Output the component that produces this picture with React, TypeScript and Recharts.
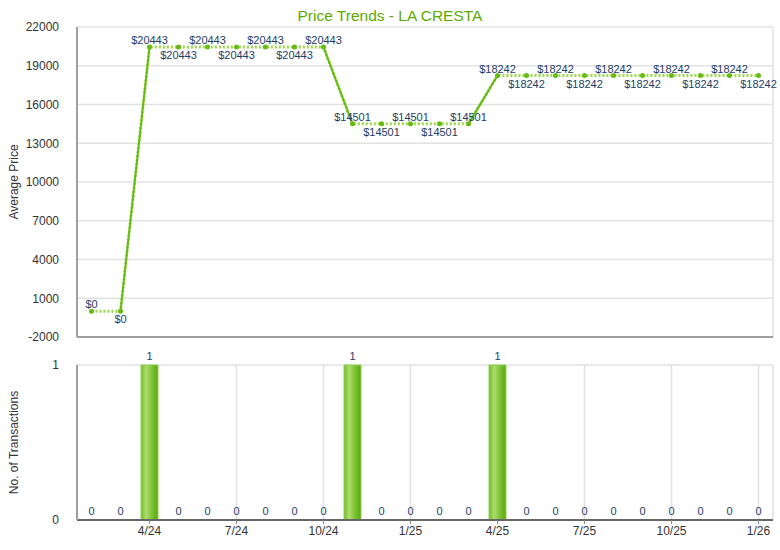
import React from 'react';
import { LineChart, Line, ComposedChart, Bar, XAxis, YAxis, CartesianGrid, LabelList, Label } from 'recharts';

const months = [
  '2/24', '3/24', '4/24', '5/24', '6/24', '7/24', '8/24', '9/24', '10/24', '11/24', '12/24', '1/25',
  '2/25', '3/25', '4/25', '5/25', '6/25', '7/25', '8/25', '9/25', '10/25', '11/25', '12/25', '1/26',
];
const avgPrice = [
  0, 0, 20443, 20443, 20443, 20443, 20443, 20443, 20443, 14501, 14501, 14501,
  14501, 14501, 18242, 18242, 18242, 18242, 18242, 18242, 18242, 18242, 18242, 18242,
];
const transactions = [0, 0, 1, 0, 0, 0, 0, 0, 0, 1, 0, 0, 0, 0, 1, 0, 0, 0, 0, 0, 0, 0, 0, 0];
const tickMonths = ['4/24', '7/24', '10/24', '1/25', '4/25', '7/25', '10/25', '1/26'];
const priceTicks = [-2000, 1000, 4000, 7000, 10000, 13000, 16000, 19000, 22000];

// solid segment = the step into a month with a sale
const data = months.map((m, i) => ({
  month: m,
  price: avgPrice[i],
  solid: transactions[i] === 1 || transactions[i + 1] === 1 ? avgPrice[i] : null,
  count: transactions[i],
}));

const FONT = '"Liberation Sans", Arial, sans-serif';
const LABEL_COLOR = '#1d3d66';
const GRID = '#e2e2e2';

const PriceLabel = (props: any) => {
  const { x, y, index, value } = props;
  let run = 0;
  let i = index;
  while (i > 0 && avgPrice[i - 1] === avgPrice[index]) {
    run++;
    i--;
  }
  const above = run % 2 === 0;
  return (
    <text x={x} y={above ? y - 3 : y + 12} textAnchor="middle" fill={LABEL_COLOR} fontSize={11} fontFamily={FONT}>
      ${value}
    </text>
  );
};

export default function App() {
  return (
    <div style={{ position: 'absolute', left: 0, top: 0, width: 780, height: 550, background: '#fff', fontFamily: FONT }}>
      <div style={{ position: 'absolute', top: 7, left: 0, width: 780, textAlign: 'center', fontSize: 15.5, color: '#5caa00' }}>
        Price Trends - LA CRESTA
      </div>

      <div style={{ position: 'absolute', top: 0, left: 0 }}>
        <LineChart width={780} height={352} data={data} margin={{ top: 27, right: 7, left: 0, bottom: 13 }}>
          <CartesianGrid stroke={GRID} strokeWidth={1.5} />
          <XAxis dataKey="month" scale="band" ticks={tickMonths} tick={false} tickLine={false} height={2}
            axisLine={{ stroke: '#a0a0a0', strokeWidth: 2 }} />
          <YAxis width={77} domain={[-2000, 22000]} ticks={priceTicks} interval={0} tickLine={false}
            axisLine={{ stroke: '#a0a0a0', strokeWidth: 2 }}
            tick={{ fill: '#333', fontSize: 12, fontFamily: FONT }} tickMargin={12}>
            <Label value="Average Price" angle={-90} position="insideLeft" offset={14}
              style={{ textAnchor: 'middle', fill: '#333', fontSize: 12, fontFamily: FONT }} />
          </YAxis>
          <Line dataKey="price" stroke="#9ad94a" strokeWidth={3} strokeDasharray="2 2"
            dot={{ r: 2.5, fill: '#66bb11', stroke: 'none', strokeDasharray: '' }} activeDot={false}
            isAnimationActive={false}>
            <LabelList dataKey="price" content={PriceLabel} />
          </Line>
          <Line dataKey="solid" stroke="#66bb11" strokeWidth={2} dot={false} activeDot={false}
            connectNulls={false} isAnimationActive={false} />
        </LineChart>
      </div>

      <div style={{ position: 'absolute', top: 340, left: 0 }}>
        <ComposedChart width={780} height={210} data={data} margin={{ top: 25, right: 7, left: 0, bottom: 0 }}>
          <defs>
            <linearGradient id="barGrad" x1="0" y1="0" x2="1" y2="0">
              <stop offset="0%" stopColor="#72bb22" />
              <stop offset="30%" stopColor="#acdd6e" />
              <stop offset="65%" stopColor="#7cc232" />
              <stop offset="100%" stopColor="#5aa512" />
            </linearGradient>
          </defs>
          <CartesianGrid stroke={GRID} strokeWidth={1.5} />
          <XAxis dataKey="month" scale="band" ticks={tickMonths} height={30} tickSize={4}
            tickLine={{ stroke: '#888' }} axisLine={{ stroke: '#666', strokeWidth: 2 }}
            tick={{ fill: '#333', fontSize: 12, fontFamily: FONT }} />
          <YAxis width={77} domain={[0, 1]} ticks={[0, 1]} interval={0} tickLine={false}
            axisLine={{ stroke: '#a0a0a0', strokeWidth: 2 }}
            tick={{ fill: '#333', fontSize: 12, fontFamily: FONT }} tickMargin={12}>
            <Label value="No. of Transactions" angle={-90} position="insideLeft" offset={14}
              style={{ textAnchor: 'middle', fill: '#333', fontSize: 12, fontFamily: FONT }} />
          </YAxis>
          <Bar dataKey="count" barSize={17} fill="url(#barGrad)" stroke="#8fd14f" strokeWidth={1}
            isAnimationActive={false} />
          {/* invisible carrier for the count labels, so zero months get a "0" too */}
          <Line dataKey="count" stroke="none" dot={false} activeDot={false} isAnimationActive={false}>
            <LabelList dataKey="count" position="top" offset={5} fill={LABEL_COLOR} fontSize={11} fontFamily={FONT} />
          </Line>
        </ComposedChart>
      </div>
    </div>
  );
}
